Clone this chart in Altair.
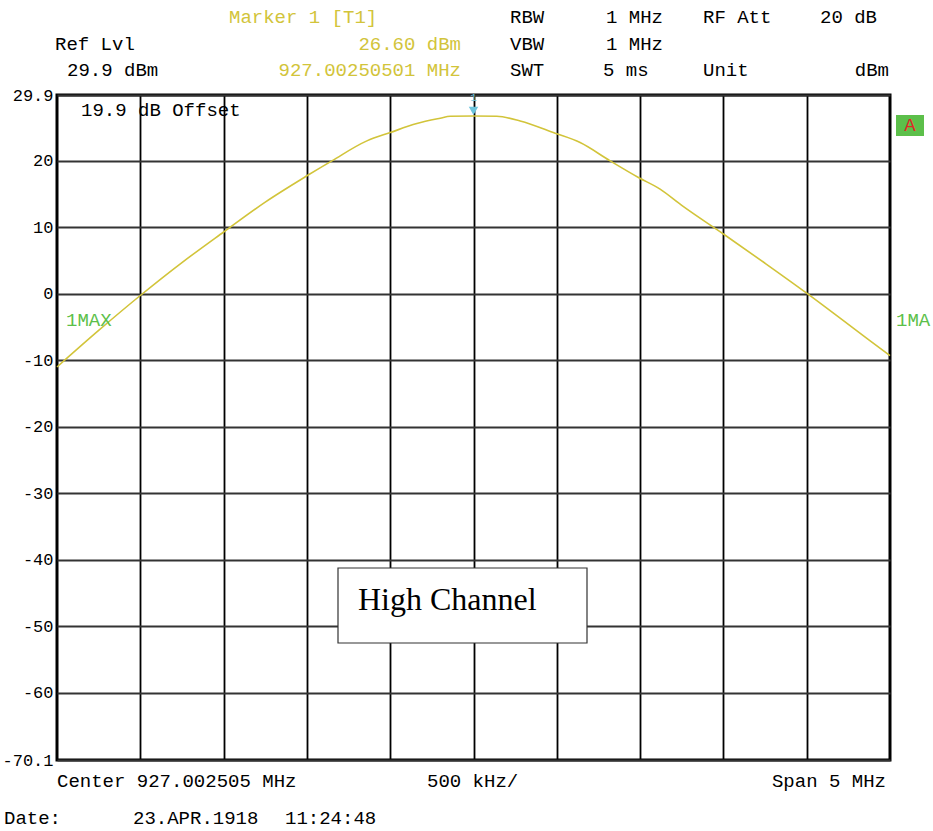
import altair as alt
import pandas as pd

# ---- data ----
freq_offset_mhz = [-2.5, -2.25, -2.0, -1.75, -1.5, -1.25, -1.0, -0.85, -0.64, -0.5, -0.34,
                   -0.2, -0.14, 0.0, 0.14, 0.28, 0.49, 0.64, 0.82, 0.99, 1.12, 1.25, 1.5,
                   1.75, 2.0, 2.25, 2.5]
level_dbm = [-11.0, -5.5, -0.25, 4.7, 9.3, 13.8, 17.75, 20.0, 23.0, 24.25, 25.6,
             26.4, 26.7, 26.75, 26.7, 26.0, 24.15, 22.75, 20.0, 17.5, 15.75, 13.3, 9.0,
             4.6, 0.1, -4.6, -9.3]
marker_freq = [0.0]
marker_level = [26.6]
y_ticks = [29.9, 20, 10, 0, -10, -20, -30, -40, -50, -60, -70.1]
x_grid = [-2.0, -1.5, -1.0, -0.5, 0.0, 0.5, 1.0, 1.5, 2.0]

W, H = 833, 665
OX, OY = 57, 95
MONO = "Liberation Mono"
YEL = "#d2c43a"
GRN = "#5cbf4a"

trace = pd.DataFrame({"f": freq_offset_mhz, "lvl": level_dbm})
mk = pd.DataFrame({"f": marker_freq, "lvl": marker_level})
one = pd.DataFrame({"a": [0]})

xs = alt.Scale(domain=[-2.5, 2.5], nice=False, zero=False)
ys = alt.Scale(domain=[-70.1, 29.9], nice=False, zero=False)

line = alt.Chart(trace).mark_line(color=YEL, strokeWidth=1.6, interpolate="monotone").encode(
    x=alt.X("f:Q", scale=xs, axis=alt.Axis(values=x_grid, labels=False, ticks=False,
                                            domain=False, title=None, grid=True,
                                            gridColor="#000000", gridWidth=1.8, gridOpacity=1)),
    y=alt.Y("lvl:Q", scale=ys, axis=alt.Axis(values=y_ticks, ticks=False, domain=False,
                                              title=None, grid=True, gridColor="#333333",
                                              gridWidth=1.8, gridOpacity=1,
                                              labelFont=MONO, labelFontSize=17,
                                              labelColor="#000000", labelPadding=4,
                                              labelExpr="(datum.value < 0 ? '-' : '') + format(abs(datum.value), '.1~f')")),
)

marker = alt.Chart(mk).mark_point(shape="triangle-down", filled=True, color="#6cc4dc",
                                  size=90, opacity=1, yOffset=-6).encode(
    x=alt.X("f:Q", scale=xs), y=alt.Y("lvl:Q", scale=ys))
marker_lbl = alt.Chart(mk).mark_text(text="1", color="#6cc4dc", font=MONO, fontSize=11,
                                     yOffset=-19).encode(
    x=alt.X("f:Q", scale=xs), y=alt.Y("lvl:Q", scale=ys))


def txt(s, x, y, color="#000000", align="left", size=19, font=MONO):
    return alt.Chart(one).mark_text(text=s, color=color, align=align, baseline="middle",
                                    font=font, fontSize=size).encode(
        x=alt.value(x - OX), y=alt.value(y - OY))


def box(x1, x2, y1, y2, fill, stroke=None, sw=0):
    kw = dict(fill=fill)
    if stroke:
        kw.update(stroke=stroke, strokeWidth=sw)
    return alt.Chart(one).mark_rect(**kw).encode(
        x=alt.value(x1 - OX), x2=alt.value(x2 - OX),
        y=alt.value(y1 - OY), y2=alt.value(y2 - OY))


layers = [
    line,
    box(338, 587, 568, 643, "#ffffff", "#333333", 1.2),
    txt("High Channel", 358, 600, size=32, font="Liberation Serif"),
    marker, marker_lbl,
    txt("Marker 1 [T1]", 229, 17, YEL),
    txt("Ref Lvl", 55, 44),
    txt("29.9 dBm", 67, 70),
    txt("26.60 dBm", 461, 44, YEL, "right"),
    txt("927.00250501 MHz", 461, 70, YEL, "right"),
    txt("RBW", 510, 17), txt("1 MHz", 606, 17), txt("RF Att", 703, 17),
    txt("20 dB", 877, 17, align="right"),
    txt("VBW", 510, 44), txt("1 MHz", 606, 44),
    txt("SWT", 510, 70), txt("5 ms", 603, 70), txt("Unit", 703, 70),
    txt("dBm", 889, 70, align="right"),
    txt("19.9 dB Offset", 81, 110),
    txt("1MAX", 66, 320, GRN),
    txt("1MA", 896, 320, GRN),
    box(896, 924, 115, 136, GRN),
    txt("A", 910, 125, "#e02828", "center"),
    txt("Center 927.002505 MHz", 57, 781),
    txt("500 kHz/", 427, 781),
    txt("Span 5 MHz", 886, 781, align="right"),
    txt("Date:", 4, 818),
    txt("23.APR.1918", 133, 818),
    txt("11:24:48", 285, 818),
]

chart = alt.layer(*layers).properties(
    width=W, height=H,
    autosize=alt.AutoSizeParams(type="none"),
    padding={"left": OX, "top": OY, "right": 933 - OX - W, "bottom": 831 - OY - H},
    background="#ffffff",
).configure_view(stroke="#000000", strokeWidth=3)

chart.save("out.html", embed_options={"renderer": "svg", "actions": False})
